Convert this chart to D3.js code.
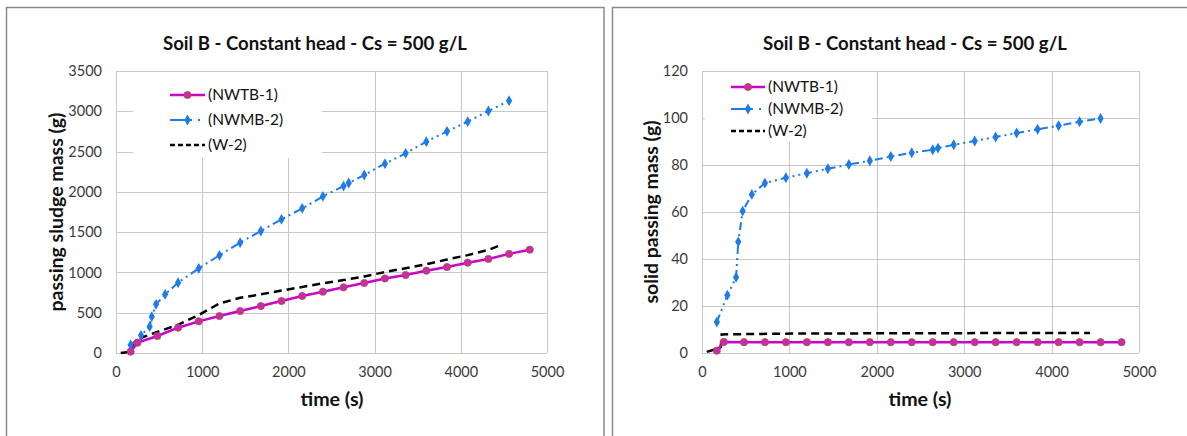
<!DOCTYPE html>
<html>
<head>
<meta charset="utf-8">
<script src="https://cdn.jsdelivr.net/npm/d3@7"></script>
<style>
  html, body { margin: 0; padding: 0; background: #fff; }
  svg { display: block; font-family: Lato, "Open Sans", sans-serif; }
</style>
</head>
<body>
<svg id="chart" width="1187" height="436"></svg>
<script>
// Soil B, constant head, Cs = 500 g/L : passing sludge and solid masses over time
const chartTitle = "Soil B - Constant head - Cs = 500 g/L";
const seriesNames = ["(NWTB-1)", "(NWMB-2)", "(W-2)"];
const xTicks = [0, 1000, 2000, 3000, 4000, 5000];
const sludgeTicks = [0, 500, 1000, 1500, 2000, 2500, 3000, 3500];
const solidTicks = [0, 20, 40, 60, 80, 100, 120];

// NWTB-1 (time in s, masses in g)
const timeNWTB = [170, 250, 480, 720, 960, 1200, 1440, 1680, 1920, 2160, 2400, 2640, 2880, 3120, 3360, 3600, 3840, 4080, 4320, 4560, 4800];
const sludgeNWTB = [17, 128, 211, 314, 393, 459, 521, 583, 645, 707, 761, 815, 869, 925, 968, 1022, 1067, 1121, 1167, 1230, 1282];
const solidNWTB = [1.0, 4.7, 4.6, 4.6, 4.6, 4.6, 4.6, 4.6, 4.6, 4.6, 4.6, 4.6, 4.6, 4.6, 4.6, 4.6, 4.6, 4.6, 4.6, 4.6, 4.6];

// NWMB-2
const timeNWMB = [170, 290, 390, 415, 465, 570, 720, 960, 1200, 1440, 1680, 1920, 2160, 2400, 2640, 2700, 2880, 3120, 3360, 3600, 3840, 4080, 4320, 4560];
const sludgeNWMB = [99, 219, 327, 451, 604, 728, 873, 1051, 1212, 1369, 1514, 1659, 1795, 1944, 2072, 2110, 2209, 2350, 2478, 2623, 2751, 2871, 3003, 3131];
const solidNWMB = [13.2, 24.6, 32.2, 47.3, 60.4, 67.5, 72.3, 74.6, 76.5, 78.4, 80.2, 81.8, 83.6, 85.2, 86.5, 87.2, 88.6, 90.2, 91.9, 93.6, 95.2, 96.7, 98.4, 99.8];

// W-2
const timeW2Sludge = [55, 170, 215, 300, 480, 720, 960, 1200, 1440, 1680, 1920, 2160, 2400, 2640, 2880, 3120, 3360, 3600, 3840, 4080, 4320, 4440];
const sludgeW2 = [0, 15, 110, 190, 262, 350, 472, 615, 685, 728, 775, 820, 865, 905, 950, 1005, 1052, 1102, 1160, 1215, 1280, 1330];
const timeW2Solid = [55, 170, 215, 225, 600, 1200, 2400, 3600, 4440];
const solidW2 = [0.5, 1.8, 2.5, 7.9, 8.1, 8.3, 8.4, 8.5, 8.5];

const colors = { nwtb: "#CC00CC", nwtbMarker: "#C4309E", nwtbEdge: "#B0485A", nwmb: "#1F7BE8", w2: "#000000" };

const svg = d3.select("#chart");

function zip(xs, ys) { return xs.map((x, i) => ({ x: x, y: ys[i] })); }

// scale a text's font size so that it spans the given width
function fitWidth(sel, width) {
  const base = +sel.attr("font-size");
  const w = sel.node().getComputedTextLength();
  if (w > 0) sel.attr("font-size", (base * width / w).toFixed(2));
  return sel;
}

function drawPanel(cfg) {
  const g = svg.append("g");

  // outer frame of the panel
  g.append("rect")
    .attr("x", cfg.frame[0]).attr("y", cfg.frame[1])
    .attr("width", cfg.frame[2]).attr("height", cfg.frame[3])
    .attr("fill", "none").attr("stroke", "#8a8a8a").attr("stroke-width", 1.5);

  const x = d3.scaleLinear().domain([0, 5000]).range([cfg.plot.left, cfg.plot.right]);
  const y = d3.scaleLinear().domain([0, cfg.yMax]).range([cfg.plot.bottom, cfg.plot.top]);

  // gridlines
  const grid = g.append("g").attr("stroke", "#c8c8c8").attr("stroke-width", 1).attr("shape-rendering", "crispEdges");
  grid.selectAll("line.h").data(cfg.yTicks).join("line")
    .attr("x1", cfg.plot.left).attr("x2", cfg.plot.right)
    .attr("y1", d => Math.round(y(d)) + 0.5).attr("y2", d => Math.round(y(d)) + 0.5);
  grid.selectAll("line.v").data(xTicks).join("line")
    .attr("y1", cfg.plot.top).attr("y2", cfg.plot.bottom)
    .attr("x1", d => Math.round(x(d)) + 0.5).attr("x2", d => Math.round(x(d)) + 0.5);

  // axes: labels only, no domain or tick marks
  const xAxis = g.append("g").attr("transform", `translate(0,${cfg.plot.bottom})`)
    .call(d3.axisBottom(x).tickValues(xTicks).tickSize(0).tickPadding(14).tickFormat(d3.format("d")));
  const yAxis = g.append("g").attr("transform", `translate(${cfg.plot.left},0)`)
    .call(d3.axisLeft(y).tickValues(cfg.yTicks).tickSize(0).tickPadding(14).tickFormat(d3.format("d")));
  [xAxis, yAxis].forEach(a => {
    a.select(".domain").remove();
    a.selectAll("text").attr("font-family", "Lato, sans-serif").attr("font-size", 14.5).attr("fill", "#3a3a3a");
  });

  // legend box hides the gridlines behind it
  g.append("rect")
    .attr("x", cfg.legendBox[0]).attr("y", cfg.legendBox[1])
    .attr("width", cfg.legendBox[2]).attr("height", cfg.legendBox[3])
    .attr("fill", "#fff");

  const line = d3.line().x(d => x(d.x)).y(d => y(d.y));

  // W-2
  g.append("path").datum(zip(cfg.w2t, cfg.w2v))
    .attr("d", line).attr("fill", "none").attr("stroke", colors.w2)
    .attr("stroke-width", 2.5).attr("stroke-dasharray", "8,5");

  // NWMB-2
  const nwmb = zip(timeNWMB, cfg.nwmb);
  g.append("path").datum(nwmb)
    .attr("d", line).attr("fill", "none").attr("stroke", colors.nwmb)
    .attr("stroke-width", 2).attr("stroke-dasharray", "8,4,2,4,2,4");
  g.selectAll("path.nwmbPt").data(nwmb).join("path")
    .attr("transform", d => `translate(${x(d.x)},${y(d.y)})`)
    .attr("d", d3.symbol().type(d3.symbolDiamond).size(34))
    .attr("fill", colors.nwmb);

  // NWTB-1
  const nwtb = zip(timeNWTB, cfg.nwtb);
  g.append("path").datum(nwtb)
    .attr("d", line).attr("fill", "none").attr("stroke", colors.nwtb).attr("stroke-width", 2.5);
  g.selectAll("circle.nwtbPt").data(nwtb).join("circle")
    .attr("cx", d => x(d.x)).attr("cy", d => y(d.y)).attr("r", 3.6)
    .attr("fill", colors.nwtbMarker).attr("stroke", colors.nwtbEdge).attr("stroke-width", 0.8);

  // legend
  const lg = g.append("g").attr("transform", `translate(${cfg.legend.x},${cfg.legend.y})`);
  const rows = [
    { name: seriesNames[0], color: colors.nwtb, dash: null, width: 2.5, marker: "circle" },
    { name: seriesNames[1], color: colors.nwmb, dash: "22,6,2,6", width: 2, marker: "diamond" },
    { name: seriesNames[2], color: colors.w2, dash: "5,3", width: 2.5, marker: null }
  ];
  let legendFont = 15;
  rows.forEach((r, i) => {
    const ry = i * cfg.legend.step;
    lg.append("line").attr("x1", 0).attr("x2", cfg.legend.len).attr("y1", ry).attr("y2", ry)
      .attr("stroke", r.color).attr("stroke-width", r.width).attr("stroke-dasharray", r.dash);
    if (r.marker === "circle") {
      lg.append("circle").attr("cx", cfg.legend.len / 2).attr("cy", ry).attr("r", 3.6)
        .attr("fill", colors.nwtbMarker).attr("stroke", colors.nwtbEdge).attr("stroke-width", 0.8);
    } else if (r.marker === "diamond") {
      lg.append("path").attr("transform", `translate(${cfg.legend.len / 2},${ry})`)
        .attr("d", d3.symbol().type(d3.symbolDiamond).size(34)).attr("fill", colors.nwmb);
    }
    const t = lg.append("text").attr("x", cfg.legend.len + 3).attr("y", ry).attr("dy", "0.35em")
      .attr("font-size", legendFont).attr("fill", "#111").text(r.name);
    if (i === 0) legendFont = +fitWidth(t, 70).attr("font-size");
  });

  // titles
  fitWidth(g.append("text").attr("x", cfg.titleX).attr("y", 50).attr("text-anchor", "middle")
    .attr("font-size", 17).attr("font-weight", "bold").attr("fill", "#111").text(chartTitle), 304);
  fitWidth(g.append("text").attr("x", cfg.xLabelX).attr("y", 406).attr("text-anchor", "middle")
    .attr("font-size", 18).attr("font-weight", "bold").attr("fill", "#111").text("time (s)"), 63);
  fitWidth(g.append("text").attr("transform", `translate(${cfg.yLabelX},${cfg.yLabelY}) rotate(-90)`)
    .attr("text-anchor", "middle").attr("dy", "0.35em")
    .attr("font-size", 18).attr("font-weight", "bold").attr("fill", "#111").text(cfg.yLabel), cfg.yLabelW);
}

drawPanel({
  frame: [6.5, 7.5, 597.5, 460],
  plot: { left: 116, right: 547, top: 71, bottom: 353 },
  yMax: 3500, yTicks: sludgeTicks,
  nwtb: sludgeNWTB, nwmb: sludgeNWMB, w2t: timeW2Sludge, w2v: sludgeW2,
  legendBox: [133, 72, 189, 86],
  legend: { x: 170, y: 95, step: 25, len: 35 },
  titleX: 315, xLabelX: 332, yLabelX: 56, yLabelY: 212, yLabelW: 199, yLabel: "passing sludge mass (g)"
});

drawPanel({
  frame: [612.5, 7.5, 620, 460],
  plot: { left: 702, right: 1139, top: 71, bottom: 353 },
  yMax: 120, yTicks: solidTicks,
  nwtb: solidNWTB, nwmb: solidNWMB, w2t: timeW2Solid, w2v: solidW2,
  legendBox: [705, 72, 167, 70],
  legend: { x: 731, y: 87, step: 22, len: 34 },
  titleX: 915, xLabelX: 920, yLabelX: 651, yLabelY: 212, yLabelW: 183, yLabel: "solid passing mass (g)"
});
</script>
</body>
</html>
